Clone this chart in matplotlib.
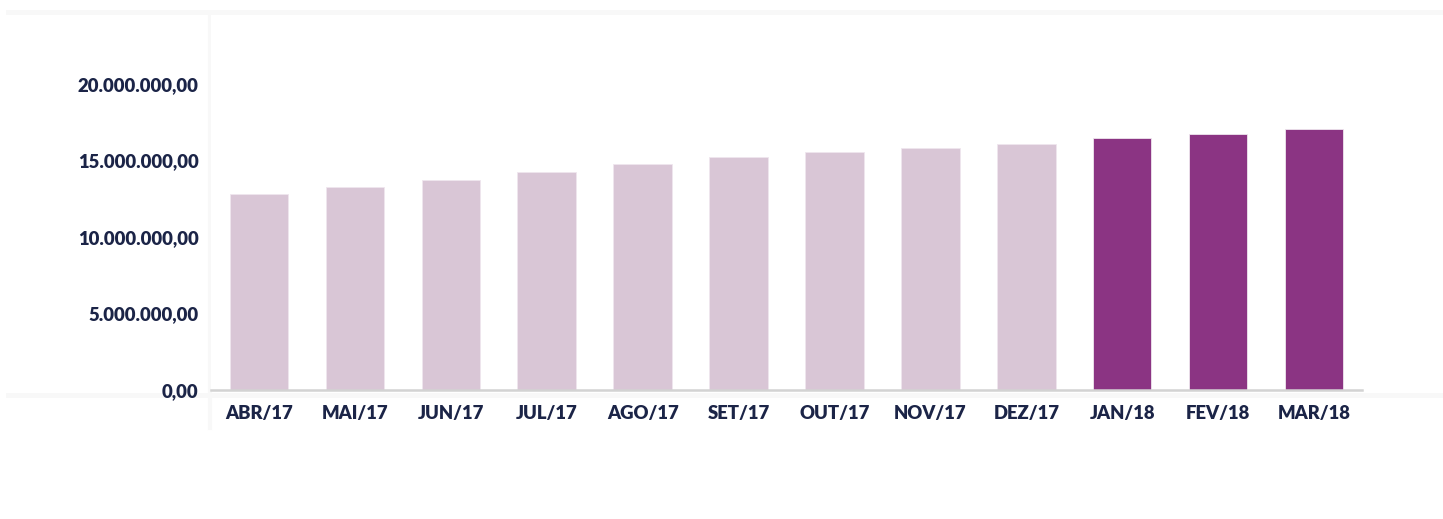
import matplotlib
matplotlib.use("Agg")
import matplotlib.pyplot as plt
from matplotlib.lines import Line2D
from matplotlib.ticker import FuncFormatter

# monthly values (millions)
months = ["ABR/17", "MAI/17", "JUN/17", "JUL/17", "AGO/17", "SET/17",
          "OUT/17", "NOV/17", "DEZ/17", "JAN/18", "FEV/18", "MAR/18"]
values = [12.82, 13.25, 13.69, 14.24, 14.74, 15.24,
          15.52, 15.78, 16.09, 16.44, 16.74, 17.05]
highlight = [False] * 9 + [True] * 3
y_ticks = [0, 5, 10, 15, 20]

light = "#D9C6D6"
dark = "#8B3483"
navy = "#1B2447"

plt.rcParams['font.family'] = ['Lato', 'DejaVu Sans']

fig = plt.figure(figsize=(14.43, 5.19), dpi=100)
ax = fig.add_axes([211 / 1443, 1 - 390 / 519, (1362 - 211) / 1443, (390 - 15) / 519])

colors = [dark if h else light for h in highlight]
x = range(len(months))
ax.bar(x, values, width=0.61, color=colors, edgecolor="#EFE6EE", linewidth=0.6, zorder=2)

ax.set_xlim(-0.5, len(months) - 0.5)
ax.set_ylim(0, 24.5)
ax.set_yticks(y_ticks)
ax.yaxis.set_major_formatter(FuncFormatter(
    lambda v, p: f"{v * 1e6:,.2f}".replace(",", "X").replace(".", ",").replace("X", ".")))
ax.set_xticks(list(x))
ax.set_xticklabels(months)

for lab in ax.get_xticklabels() + ax.get_yticklabels():
    lab.set_fontweight("heavy")
    lab.set_color(navy)
    lab.set_fontsize(13.3)

ax.tick_params(axis="y", length=0, pad=9)
ax.tick_params(axis="x", length=0, pad=11)

for s in ["top", "right", "left"]:
    ax.spines[s].set_visible(False)
ax.spines["bottom"].set_color("#D3D3D3")
ax.spines["bottom"].set_linewidth(1.8)

# table-like light borders around the chart
def fline(x0, x1, y0, y1, lw, c):
    fig.add_artist(Line2D([x0 / 1443, x1 / 1443], [1 - y0 / 519, 1 - y1 / 519],
                          color=c, linewidth=lw, zorder=0))

fline(8, 1443, 12, 12, 3.5, "#F8F8F8")
fline(209.5, 209.5, 15, 428, 3, "#F8F8F8")
fline(8, 1443, 395, 395, 3.5, "#F8F8F8")

fig.savefig("out.png", dpi=100)
